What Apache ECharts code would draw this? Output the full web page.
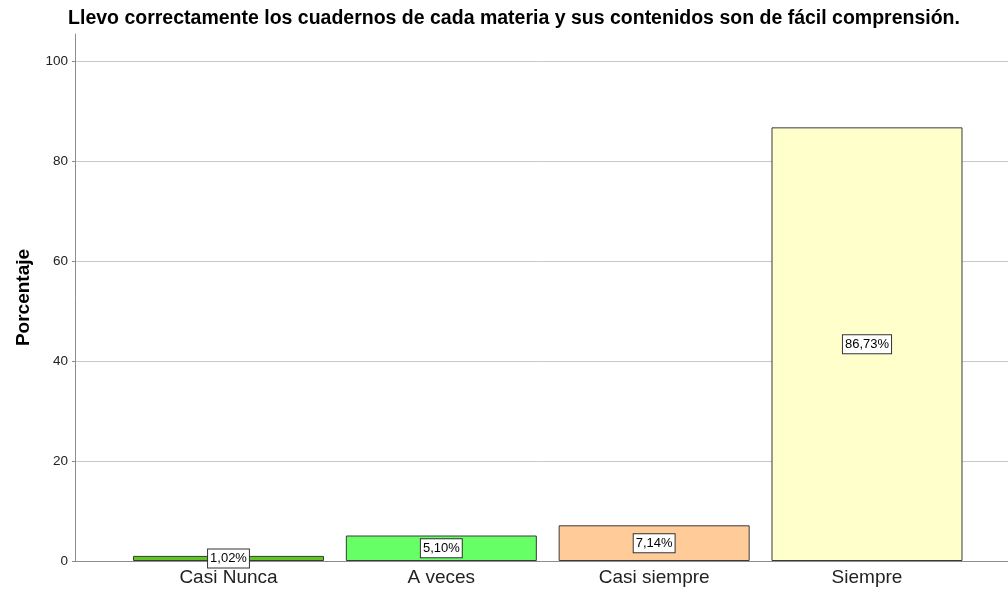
<!DOCTYPE html>
<html>
<head>
<meta charset="utf-8">
<script src="https://cdn.jsdelivr.net/npm/echarts@6/dist/echarts.min.js"></script>
<style>
  html, body { margin: 0; padding: 0; background: #fff; }
  #chart { width: 1008px; height: 592px; }
</style>
</head>
<body>
<div id="chart"></div>
<script>
// Chart data
const categories = ['Casi Nunca', 'A veces', 'Casi siempre', 'Siempre'];
const percents = [1.02, 5.10, 7.14, 86.73];
const yTicks = [0, 20, 40, 60, 80, 100];
const barColors = ['#5fc81e', '#66ff66', '#ffcc99', '#ffffcc'];

// Category positions on the value x axis (1..n)
const positions = categories.map((c, i) => i + 1);

function fmtPct(v) {
    return v.toFixed(2).replace('.', ',') + '%';
}

const chart = echarts.init(document.getElementById('chart'));

const option = {
    backgroundColor: '#ffffff',
    animation: false,
    title: {
        text: 'Llevo correctamente los cuadernos de cada materia y sus contenidos son de fácil comprensión.',
        left: 509,
        textAlign: 'center',
        top: 4,
        textStyle: {
            fontFamily: 'Liberation Sans',
            fontSize: 19.5,
            fontWeight: 'bold',
            color: '#000'
        }
    },
    grid: {
        left: 75,
        right: 0,
        top: 34,
        bottom: 31,
        containLabel: false
    },
    xAxis: {
        type: 'value',
        min: 0.2788,
        max: 4.6625,
        axisLine: { show: true, onZero: false, lineStyle: { color: '#8c8c8c', width: 1 } },
        axisTick: { show: false },
        splitLine: { show: false },
        axisLabel: {
            customValues: positions,
            formatter: function (v) {
                return categories[Math.round(v) - 1] || '';
            },
            fontFamily: 'Liberation Sans',
            fontSize: 19,
            color: '#222',
            margin: 7
        }
    },
    yAxis: {
        type: 'value',
        min: 0,
        max: 105.4,
        interval: 20,
        name: 'Porcentaje',
        nameLocation: 'middle',
        nameGap: 42,
        nameTextStyle: {
            fontFamily: 'Liberation Sans',
            fontSize: 19,
            fontWeight: 'bold',
            color: '#000'
        },
        axisLine: { show: true, lineStyle: { color: '#8c8c8c', width: 1 } },
        axisTick: { show: true, length: 3, lineStyle: { color: '#8c8c8c' }, customValues: yTicks },
        splitLine: { show: true, lineStyle: { color: '#c8c8c8', width: 1 } },
        axisLabel: {
            customValues: yTicks,
            fontFamily: 'Liberation Sans',
            fontSize: 13.5,
            color: '#222',
            margin: 7
        }
    },
    series: [
        {
            type: 'bar',
            barWidth: 191,
            data: percents.map((v, i) => ({
                value: [positions[i], v],
                itemStyle: {
                    color: barColors[i],
                    borderColor: '#3a3a3a',
                    borderWidth: 1
                }
            })),
            label: {
                show: true,
                position: 'inside',
                formatter: function (p) { return fmtPct(p.value[1]); },
                fontFamily: 'Liberation Sans',
                fontSize: 13,
                color: '#000',
                backgroundColor: '#fff',
                borderColor: '#333',
                borderWidth: 1,
                padding: [3, 2, 2, 2]
            }
        }
    ]
};

chart.setOption(option);
</script>
</body>
</html>
